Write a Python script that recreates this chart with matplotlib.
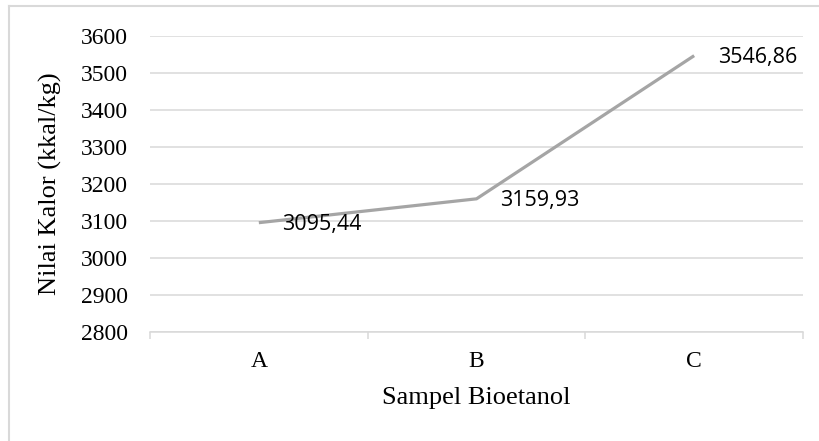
import matplotlib.pyplot as plt
from matplotlib.lines import Line2D

# data
sampel = ["A", "B", "C"]
nilai_kalor = [3095.44, 3159.93, 3546.86]
label_nilai = ["3095,44", "3159,93", "3546,86"]
y_ticks = [2800, 2900, 3000, 3100, 3200, 3300, 3400, 3500, 3600]

fig = plt.figure(figsize=(8.2, 4.41), dpi=100)
ax = fig.add_axes([150 / 820, 1 - 332 / 441, 653 / 820, 296 / 441])

x = list(range(len(sampel)))
ax.plot(x, nilai_kalor, color="#a5a5a5", lw=2.3, solid_capstyle="butt", zorder=3)

for xi, yi, t in zip(x, nilai_kalor, label_nilai):
    ax.annotate(t, (xi, yi), xytext=(17, -1), textcoords="offset points",
                ha="left", va="center", fontsize=15.5, family="Open Sans", color="black")

ax.set_xlim(-0.5, 2.5)
ax.set_ylim(2800, 3600)
ax.set_yticks(y_ticks)
ax.set_yticklabels([str(v) for v in y_ticks], family="Liberation Serif", fontsize=17)
ax.set_xticks(x)
ax.set_xticklabels(sampel, family="Liberation Serif", fontsize=17)
ax.set_xticks([-0.5, 0.5, 1.5, 2.5], minor=True)
ax.tick_params(axis="x", which="major", length=0, pad=14)
ax.tick_params(axis="x", which="minor", length=5, width=1.1, color="#d9d9d9")
ax.tick_params(axis="y", length=0, pad=16)

ax.grid(axis="y", color="#d9d9d9", lw=1.1)
ax.set_axisbelow(True)
for s in ["top", "right", "left"]:
    ax.spines[s].set_visible(False)
ax.spines["bottom"].set_color("#d9d9d9")
ax.spines["bottom"].set_linewidth(1.1)

ax.set_xlabel("Sampel Bioetanol", family="Liberation Serif", fontsize=19)
ax.xaxis.set_label_coords(0.5, -0.222)
ax.xaxis.label.set_va("center")
ax.set_ylabel("Nilai Kalor (kkal/kg)", family="Liberation Serif", fontsize=19)
ax.yaxis.set_label_coords(-0.153, 0.5)
ax.yaxis.label.set_va("center")

# bingkai luar
fig.add_artist(Line2D([9 / 820, 1.0], [1 - 6 / 441, 1 - 6 / 441], color="#d9d9d9", lw=1.5))
fig.add_artist(Line2D([9 / 820, 9 / 820], [0, 1 - 6 / 441], color="#d9d9d9", lw=1.5))

fig.savefig("out.png", dpi=100)
